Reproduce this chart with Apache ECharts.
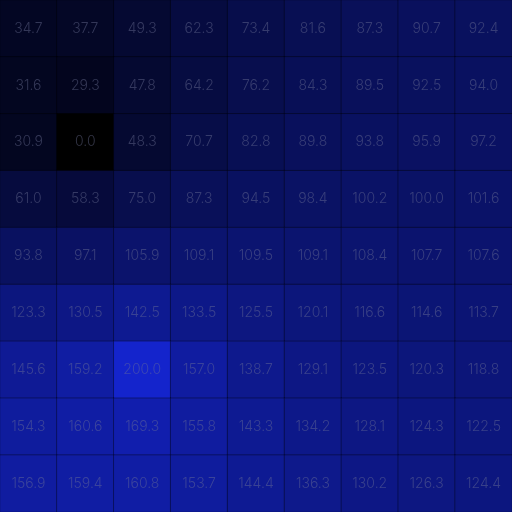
<!DOCTYPE html>
<html>
<head>
<meta charset="utf-8">
<script src="https://cdn.jsdelivr.net/npm/echarts@6/dist/echarts.min.js"></script>
<style>
html, body { margin: 0; padding: 0; background: #000; }
#chart { width: 512px; height: 512px; }
</style>
</head>
<body>
<div id="chart"></div>
<script>
// columns left to right, rows top to bottom
var cols = ['c1', 'c2', 'c3', 'c4', 'c5', 'c6', 'c7', 'c8', 'c9'];
var rows = ['r1', 'r2', 'r3', 'r4', 'r5', 'r6', 'r7', 'r8', 'r9'];
var row1 = [34.7, 37.7, 49.3, 62.3, 73.4, 81.6, 87.3, 90.7, 92.4];
var row2 = [31.6, 29.3, 47.8, 64.2, 76.2, 84.3, 89.5, 92.5, 94.0];
var row3 = [30.9, 0.0, 48.3, 70.7, 82.8, 89.8, 93.8, 95.9, 97.2];
var row4 = [61.0, 58.3, 75.0, 87.3, 94.5, 98.4, 100.2, 100.0, 101.6];
var row5 = [93.8, 97.1, 105.9, 109.1, 109.5, 109.1, 108.4, 107.7, 107.6];
var row6 = [123.3, 130.5, 142.5, 133.5, 125.5, 120.1, 116.6, 114.6, 113.7];
var row7 = [145.6, 159.2, 200.0, 157.0, 138.7, 129.1, 123.5, 120.3, 118.8];
var row8 = [154.3, 160.6, 169.3, 155.8, 143.3, 134.2, 128.1, 124.3, 122.5];
var row9 = [156.9, 159.4, 160.8, 153.7, 144.4, 136.3, 130.2, 126.3, 124.4];

var grid = [row1, row2, row3, row4, row5, row6, row7, row8, row9];
var data = [];
grid.forEach(function (r, i) {
    r.forEach(function (v, j) {
        data.push([j, i, v]);
    });
});

var chart = echarts.init(document.getElementById('chart'));
chart.setOption({
    animation: false,
    backgroundColor: '#000',
    grid: { left: 0, right: 0, top: 0, bottom: 0 },
    xAxis: {
        type: 'category',
        data: cols,
        show: false
    },
    yAxis: {
        type: 'category',
        data: rows,
        inverse: true,
        show: false
    },
    visualMap: {
        show: false,
        min: 0,
        max: 200,
        dimension: 2,
        inRange: { color: ['#000000', '#1424cc'] }
    },
    series: [{
        type: 'heatmap',
        data: data,
        itemStyle: {
            borderColor: 'rgba(0,0,0,0.35)',
            borderWidth: 1
        },
        label: {
            show: true,
            color: 'rgba(110,115,150,0.45)',
            fontSize: 14,
            fontWeight: 300,
            fontFamily: 'Inter',
            formatter: function (p) { return p.value[2].toFixed(1); }
        }
    }]
});
</script>
</body>
</html>
